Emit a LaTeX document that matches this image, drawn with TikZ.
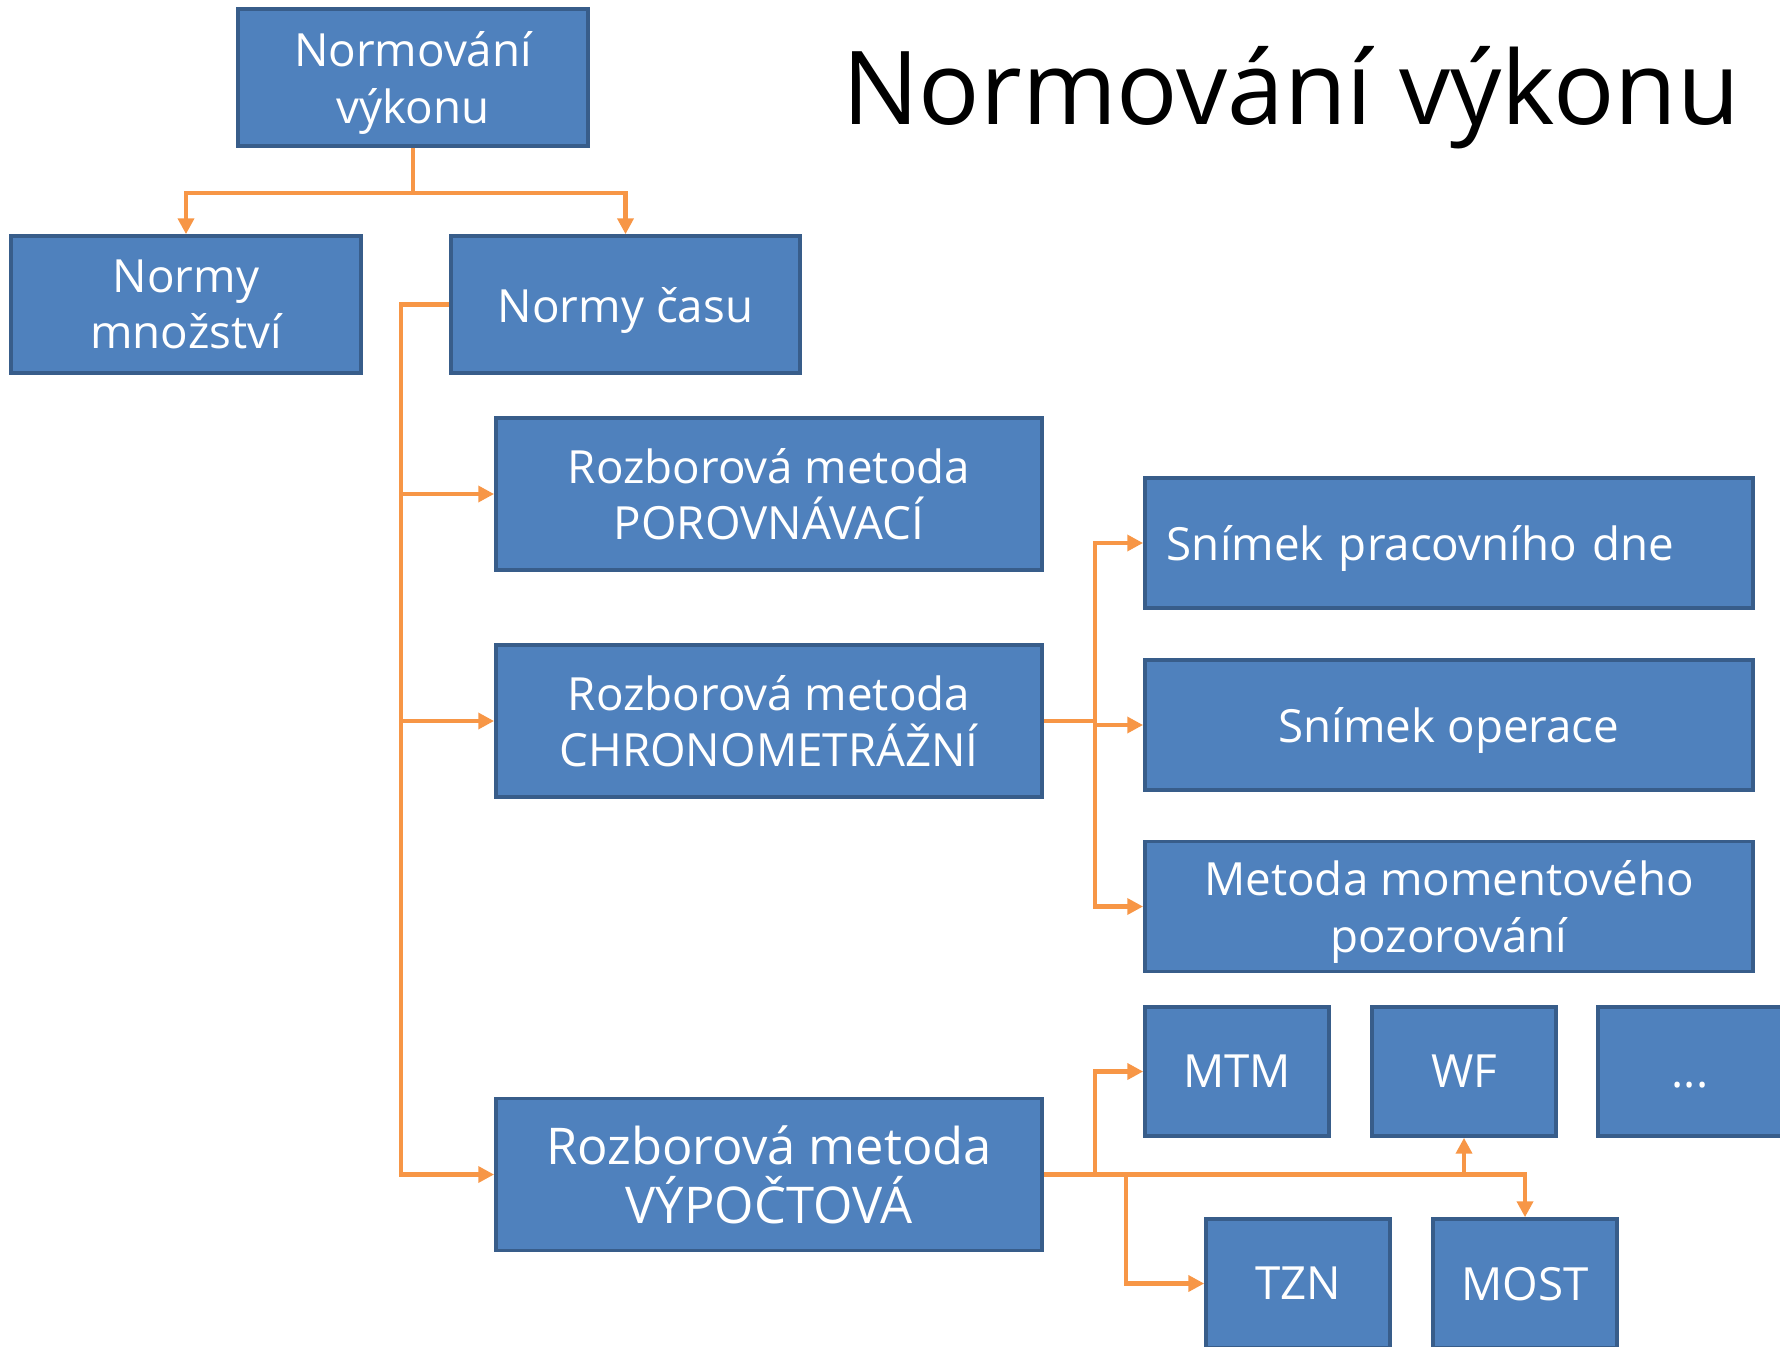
\documentclass[tikz,border=0pt]{standalone}
\usepackage{fontspec}
\setmainfont{Open Sans}
\usetikzlibrary{arrows.meta}
\definecolor{boxfill}{HTML}{4F81BD}
\definecolor{boxedge}{HTML}{385D8A}
\definecolor{linkorange}{HTML}{F79646}

\begin{document}
\begin{tikzpicture}[x=0.01cm, y=-0.01cm,
    box/.style={draw=boxedge, fill=boxfill, line width=1pt, text=white, align=center, inner sep=0pt,
        text depth=0pt, font=\fontsize{13}{16}\selectfont},
    wide/.style={box, minimum width=5.46cm, minimum height=1.52cm},
    side/.style={box, minimum width=6.08cm, minimum height=1.30cm},
    small/.style={box, minimum width=1.84cm, minimum height=1.29cm},
    link/.style={draw=linkorange, line width=1.2pt, -{Triangle[length=4.5pt, width=4.5pt]}}]

    \clip (0,0) rectangle (1780,1346);

    \node[anchor=base, font=\fontsize{29}{34}\selectfont] (title) at (1291,125) {Normování výkonu};

    \node[box, minimum width=3.5cm, minimum height=1.37cm] (top) at (413,77.5) {Normování\\výkonu};
    \node[box, minimum width=3.5cm, minimum height=1.37cm] (mnozstvi) at (186,304.5) {Normy\\množství};
    \node[box, minimum width=3.49cm, minimum height=1.37cm] (cas) at (625.5,304.5) {Normy času};

    \node[wide] (porov) at (769,494) {Rozborová metoda\\POROVNÁVACÍ};
    \node[wide] (chrono) at (769,721) {Rozborová metoda\\CHRONOMETRÁŽNÍ};
    \node[wide, font=\fontsize{14.4}{17}\selectfont] (vypoc) at (769,1174.5) {Rozborová metoda\\VÝPOČTOVÁ};

    \node[side, text width=5.64cm, inner xsep=0.22cm, align=left] (snimekdne) at (1449,543) {Snímek pracovního dne};
    \node[side] (snimekop) at (1449,725) {Snímek operace};
    \node[side] (moment) at (1449,906.5) {Metoda momentového\\pozorování};

    \node[small] (mtm) at (1237,1071.5) {MTM};
    \node[small] (wf) at (1464,1071.5) {WF};
    \node[small] (dalsi) at (1690,1071.5) {\vphantom{M}...};
    \node[small] (tzn) at (1298,1283.5) {TZN};
    \node[small] (most) at (1525,1283.5) {MOST};

    \draw[link] (top.south) -- ++(0,45) -| (mnozstvi.north);
    \draw[link] (top.south) -- ++(0,45) -| (cas.north);

    \draw[link] (cas.west) -- ++(-48,0) |- (porov.west);
    \draw[link] (cas.west) -- ++(-48,0) |- (chrono.west);
    \draw[link] (cas.west) -- ++(-48,0) |- (vypoc.west);

    \draw[link] (chrono.east) -- ++(51,0) |- (snimekdne.west);
    \draw[link] (chrono.east) -- ++(51,0) |- (snimekop.west);
    \draw[link] (chrono.east) -- ++(51,0) |- (moment.west);

    \draw[link] (vypoc.east) -- ++(51,0) |- (mtm.west);
    \draw[link] (vypoc.east) -- ++(82,0) |- (tzn.west);
    \draw[link] (vypoc.east) -| (wf.south);
    \draw[link] (vypoc.east) -| (most.north);

\end{tikzpicture}
\end{document}
